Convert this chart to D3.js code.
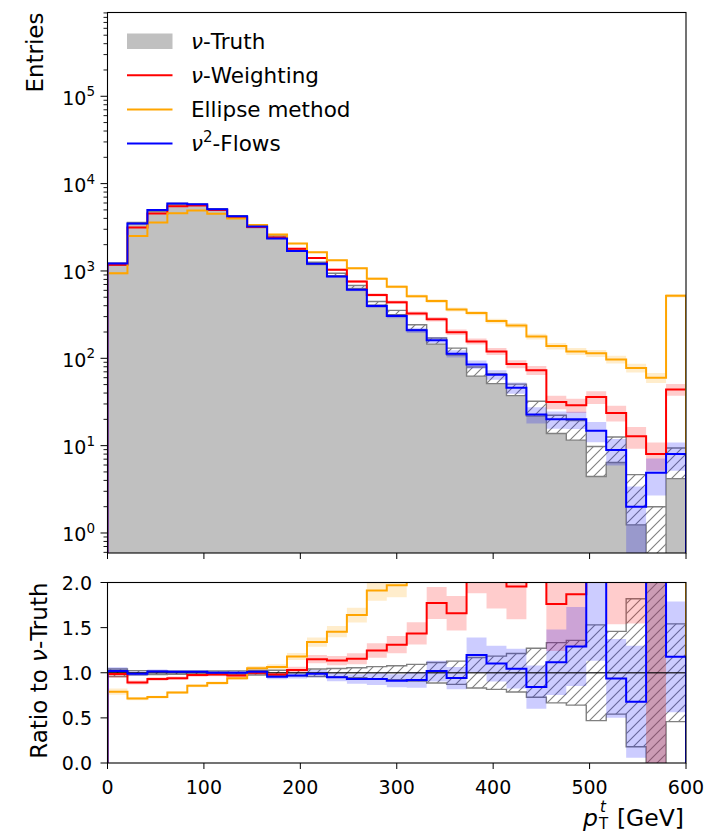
<!DOCTYPE html>
<html><head><meta charset="utf-8">
<script src="https://cdn.jsdelivr.net/npm/d3@7"></script>
<style>body{margin:0;background:#fff}svg{display:block;font-family:"DejaVu Sans",sans-serif}</style>
</head><body><svg id="c" width="708" height="833"></svg>
<script>
// ---- data ----
const edges = d3.range(30).map(i => i * 600 / 29);
const truth  = [1195,3530,4900,5850,5750,5100,4240,3190,2460,1745,1222,910,655,427,335,227,158,120,71,59,44,27,18,15.5,7.1,9.5,2.95,1.0,6.8];
const nuW    = [1177,3150,4560,5500,5600,5000,4110,3190,2410,1800,1405,1033,757,532,439,326,280,199,156,120,86,73,31.7,29,36,23.7,12.8,8.0,44];
const ellipse= [944,2520,3577,4563,4916,4514,3986,3350,2620,2059,1637,1324,1074,816,660,515,452,363,330,267,238,178,138,120,114,97,77.6,60,521];
const flows  = [1219,3491,4974,5909,5808,5100,4240,3222,2349,1693,1210,865,609,397,305,209,161,113,85,65,46,22.7,20.1,20,14.8,8.9,2.0,4.9,8.0];
// relative statistical uncertainties of each histogram
const truthRel = [0.029,0.017,0.014,0.013,0.013,0.014,0.015,0.018,0.02,0.024,0.029,0.033,0.039,0.048,0.055,0.066,0.08,0.091,0.119,0.13,0.151,0.192,0.236,0.254,0.375,0.324,0.58,1.0,0.383];
const nuWRel   = [0.029,0.018,0.015,0.013,0.013,0.014,0.016,0.018,0.02,0.024,0.027,0.031,0.036,0.043,0.048,0.055,0.06,0.071,0.08,0.091,0.108,0.117,0.178,0.186,0.167,0.205,0.28,0.354,0.151];
const ellRel   = [0.033,0.02,0.017,0.015,0.014,0.015,0.016,0.017,0.02,0.022,0.025,0.027,0.031,0.035,0.039,0.044,0.047,0.052,0.055,0.061,0.065,0.075,0.085,0.091,0.094,0.102,0.114,0.129,0.044];
const flowRel  = [0.029,0.017,0.014,0.013,0.013,0.014,0.015,0.018,0.021,0.024,0.029,0.034,0.041,0.05,0.057,0.069,0.079,0.094,0.108,0.124,0.147,0.21,0.223,0.224,0.26,0.335,0.707,0.452,0.354];
const xTicks = [0,100,200,300,400,500,600];
const ratioTicks = [0,0.5,1,1.5,2];
const logTicks = [0,1,2,3,4,5];
const legendLabels = ["ν-Truth","ν-Weighting","Ellipse method","ν²-Flows"];

// ---- layout ----
const xL = 107.5, xR = 686, tY0 = 12.5, tY1 = 553, bY0 = 582.5, bY1 = 763;
const svg = d3.select("#c");
const x = d3.scaleLinear().domain([0,600]).range([xL,xR]);
const yT = d3.scaleLog().domain([0.59, 9.1e5]).range([tY1,tY0]);
const yR = d3.scaleLinear().domain([0,2]).range([bY1,bY0]);

const defs = svg.append("defs");
defs.append("clipPath").attr("id","clipT").append("rect").attr("x",xL).attr("y",tY0).attr("width",xR-xL).attr("height",tY1-tY0);
defs.append("clipPath").attr("id","clipB").append("rect").attr("x",xL).attr("y",bY0).attr("width",xR-xL).attr("height",bY1-bY0);
const pat = defs.append("pattern").attr("id","hatch").attr("patternUnits","userSpaceOnUse").attr("width",10).attr("height",10);
pat.append("path").attr("d","M-2,2 L2,-2 M0,10 L10,0 M8,12 L12,8").attr("stroke","#808080").attr("stroke-width",1.1);

const safeT = v => yT(Math.max(v, 1e-3));
const clipR = v => yR(Math.max(-1, Math.min(3, v)));
function stepPts(vals){
  const p = [[edges[0], null]];
  vals.forEach((v,i) => { p.push([edges[i],v]); p.push([edges[i+1],v]); });
  p.push([edges[edges.length-1], null]);
  return p;
}
function stepLine(vals, ys, base){
  return d3.line().x(d => x(d[0])).y(d => d[1]===null ? base : ys(d[1]))(stepPts(vals));
}
function bandArea(lo, hi, ys){
  const pts = [];
  lo.forEach((l,i) => { pts.push([edges[i],l,hi[i]]); pts.push([edges[i+1],l,hi[i]]); });
  return d3.area().x(d => x(d[0])).y0(d => ys(d[1])).y1(d => ys(d[2]))(pts);
}

const series = [
  {vals:nuW, rel:nuWRel, color:"#ff0000"},
  {vals:ellipse, rel:ellRel, color:"#ffa500"},
  {vals:flows, rel:flowRel, color:"#0000ff"}
];

// ---- top panel ----
const gT = svg.append("g").attr("clip-path","url(#clipT)");
gT.append("path").attr("d", stepLine(truth, yT, tY1+5)).attr("fill","#c0c0c0");
const tLo = truth.map((v,i)=>v*(1-truthRel[i])), tHi = truth.map((v,i)=>v*(1+truthRel[i]));
gT.append("path").attr("d", bandArea(tLo,tHi,safeT)).attr("fill","#fff");
gT.append("path").attr("d", bandArea(tLo,tHi,safeT)).attr("fill","url(#hatch)").attr("stroke","#808080").attr("stroke-width",1.4);
series.forEach(s => {
  const lo = s.vals.map((v,i)=>v*(1-s.rel[i])), hi = s.vals.map((v,i)=>v*(1+s.rel[i]));
  gT.append("path").attr("d", bandArea(lo,hi,safeT)).attr("fill",s.color).attr("fill-opacity",0.2);
});
series.forEach(s => {
  gT.append("path").attr("d", stepLine(s.vals, yT, tY1+5)).attr("fill","none").attr("stroke",s.color).attr("stroke-width",2);
});

// ---- ratio panel ----
const gB = svg.append("g").attr("clip-path","url(#clipB)");
const rErrT = truthRel.map(e => Math.hypot(e, e));
const rLo = rErrT.map(r=>1-r), rHi = rErrT.map(r=>1+r);
gB.append("path").attr("d", bandArea(rLo,rHi,clipR)).attr("fill","#fff");
gB.append("path").attr("d", bandArea(rLo,rHi,clipR)).attr("fill","url(#hatch)").attr("stroke","#808080").attr("stroke-width",1.4);
series.forEach(s => {
  const r = s.vals.map((v,i)=>v/truth[i]);
  const e = s.rel.map((m,i)=>Math.hypot(m, truthRel[i]));
  const lo = r.map((v,i)=>v*(1-e[i])), hi = r.map((v,i)=>v*(1+e[i]));
  gB.append("path").attr("d", bandArea(lo,hi,clipR)).attr("fill",s.color).attr("fill-opacity",0.2);
});
gB.append("path").attr("d", stepLine(truth.map(v=>v/v), yR, bY1+5)).attr("fill","none").attr("stroke","#000").attr("stroke-opacity",0.75).attr("stroke-width",1.6);
series.forEach(s => {
  const r = s.vals.map((v,i)=>v/truth[i]);
  gB.append("path").attr("d", stepLine(r, clipR, bY1+5)).attr("fill","none").attr("stroke",s.color).attr("stroke-width",2);
});

// ---- axes ----
const ax = svg.append("g").attr("stroke","#000").attr("fill","none");
ax.append("rect").attr("x",xL).attr("y",tY0).attr("width",xR-xL).attr("height",tY1-tY0).attr("stroke-width",1.1);
ax.append("rect").attr("x",xL).attr("y",bY0).attr("width",xR-xL).attr("height",bY1-bY0).attr("stroke-width",1.1);
const txt = svg.append("g").attr("fill","#000").attr("font-size",19);

xTicks.forEach(t => {
  ax.append("line").attr("x1",x(t)).attr("x2",x(t)).attr("y1",tY1).attr("y2",tY1+6);
  ax.append("line").attr("x1",x(t)).attr("x2",x(t)).attr("y1",bY1).attr("y2",bY1+6);
  txt.append("text").attr("x",x(t)).attr("y",794).attr("text-anchor","middle").text(t);
});
ratioTicks.forEach(t => {
  ax.append("line").attr("x1",xL-7).attr("x2",xL).attr("y1",yR(t)).attr("y2",yR(t));
  txt.append("text").attr("x",92).attr("y",yR(t)+7).attr("text-anchor","end").text(d3.format(".1f")(t));
});
logTicks.forEach(k => {
  const y = yT(Math.pow(10,k));
  ax.append("line").attr("x1",xL-7).attr("x2",xL).attr("y1",y).attr("y2",y);
  const t = txt.append("text").attr("x",95).attr("y",y+8.5).attr("text-anchor","end");
  t.append("tspan").text("10");
  t.append("tspan").attr("font-size",13.5).attr("dy",-8.3).text(k);
});
for (let k=-1;k<=5;k++) for (let m=2;m<=9;m++){
  const v = m*Math.pow(10,k);
  if (v < yT.domain()[0] || v > yT.domain()[1]) continue;
  const y = yT(v);
  ax.append("line").attr("x1",xL-4).attr("x2",xL).attr("y1",y).attr("y2",y).attr("stroke-width",0.9);
}

// axis labels
const lab = svg.append("g").attr("fill","#000").attr("font-size",23);
lab.append("text").attr("transform",`translate(43.3,${tY0}) rotate(-90)`).attr("text-anchor","end").text("Entries");
const rl = lab.append("text").attr("transform",`translate(46.7,${bY0}) rotate(-90)`).attr("text-anchor","end");
rl.append("tspan").text("Ratio to ");
rl.append("tspan").attr("font-style","italic").text("ν");
rl.append("tspan").text("-Truth");
const xl = lab.append("text").attr("x",684).attr("y",826).attr("text-anchor","end").attr("font-size",23.5);
xl.append("tspan").attr("font-style","italic").text("p");
xl.append("tspan").attr("font-size",15).attr("dy",3).attr("dx",1).text("T");
xl.append("tspan").attr("font-size",15).attr("font-style","italic").attr("dx",-8).attr("dy",-17.5).text("t");
xl.append("tspan").attr("dx",3.5).attr("dy",14.5).text(" [GeV]");

// legend
const lg = svg.append("g").attr("font-size",21.5).attr("fill","#000");
const lgBase = [48.5, 82.6, 116.7, 150.8];
const lgColors = [null, "#ff0000", "#ffa500", "#0000ff"];
legendLabels.forEach((lbl,i) => {
  const yb = lgBase[i];
  if (i===0) lg.append("rect").attr("x",127).attr("y",yb-15).attr("width",45.5).attr("height",15.5).attr("fill","#c0c0c0");
  else lg.append("line").attr("x1",127).attr("x2",172.5).attr("y1",yb-7.3).attr("y2",yb-7.3).attr("stroke",lgColors[i]).attr("stroke-width",2);
  const t = lg.append("text").attr("x",191).attr("y",yb);
  if (lbl.startsWith("ν²")) {
    t.append("tspan").attr("font-style","italic").text("ν");
    t.append("tspan").attr("font-size",15).attr("dy",-8.5).text("2");
    t.append("tspan").attr("dy",8.5).text(lbl.slice(2));
  } else if (lbl.startsWith("ν")) {
    t.append("tspan").attr("font-style","italic").text("ν");
    t.append("tspan").text(lbl.slice(1));
  } else t.text(lbl);
});
</script></body></html>
